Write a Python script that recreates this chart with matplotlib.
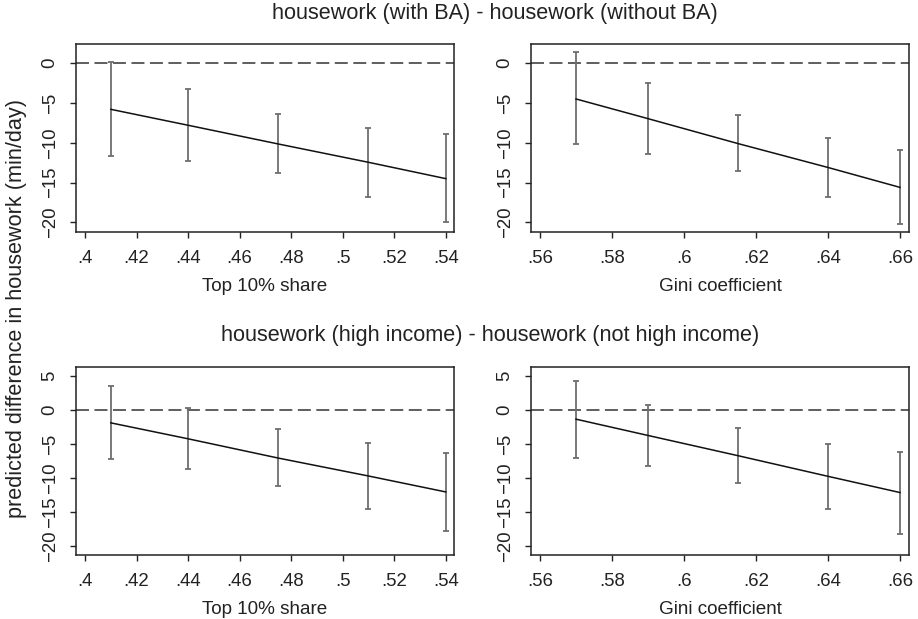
import matplotlib

matplotlib.use("Agg")

import matplotlib.pyplot as plt

plt.rcParams["font.family"] = ["Liberation Sans", "DejaVu Sans"]

# x positions of the predictions
TOP10_X = [0.41, 0.44, 0.475, 0.51, 0.54]
GINI_X = [0.57, 0.59, 0.615, 0.64, 0.66]

# housework (with BA) - housework (without BA)
BA_TOP10_EST = [-5.8, -7.8, -10.15, -12.45, -14.5]
BA_TOP10_LO = [-11.6, -12.35, -13.85, -16.8, -20.0]
BA_TOP10_HI = [0.15, -3.2, -6.33, -8.1, -8.9]

BA_GINI_EST = [-4.5, -6.97, -10.1, -13.1, -15.6]
BA_GINI_LO = [-10.2, -11.43, -13.5, -16.8, -20.2]
BA_GINI_HI = [1.34, -2.44, -6.47, -9.37, -10.9]

# housework (high income) - housework (not high income)
INC_TOP10_EST = [-1.9, -4.24, -7.07, -9.7, -12.04]
INC_TOP10_LO = [-7.26, -8.72, -11.16, -14.52, -17.84]
INC_TOP10_HI = [3.46, 0.24, -2.73, -4.92, -6.29]

INC_GINI_EST = [-1.36, -3.75, -6.72, -9.75, -12.13]
INC_GINI_LO = [-7.02, -8.28, -10.77, -14.52, -18.18]
INC_GINI_HI = [4.29, 0.78, -2.68, -4.97, -6.14]

TOP10_TICKS = [0.40, 0.42, 0.44, 0.46, 0.48, 0.50, 0.52, 0.54]
TOP10_LABELS = [".4", ".42", ".44", ".46", ".48", ".5", ".52", ".54"]
GINI_TICKS = [0.56, 0.58, 0.60, 0.62, 0.64, 0.66]
GINI_LABELS = [".56", ".58", ".6", ".62", ".64", ".66"]
Y_TICKS_TOP = [0, -5, -10, -15, -20]
Y_TICKS_BOTTOM = [5, 0, -5, -10, -15, -20]

TITLE_BA = "housework (with BA) - housework (without BA)"
TITLE_INC = "housework (high income) - housework (not high income)"
Y_LABEL = "predicted difference in housework (min/day)"

W, H = 918, 619
INK = "#222222"
CI_GRAY = "#6e6e6e"


def px_axes(fig, left, top, right, bottom):
    return fig.add_axes([left / W, 1 - bottom / H, (right - left) / W, (bottom - top) / H])


def draw_panel(ax, x, est, lo, hi, xticks, xlabels, xlim, yticks, ylim, xlabel):
    yerr = [[e - l for e, l in zip(est, lo)], [h - e for e, h in zip(est, hi)]]
    ax.axhline(0, color="#333333", linewidth=1.1, linestyle=(0, (8.5, 3.6)), zorder=1)
    ax.errorbar(
        x, est, yerr=yerr, fmt="none", ecolor=CI_GRAY, elinewidth=1.3,
        capsize=2.3, capthick=1.3, zorder=2,
    )
    ax.plot(x, est, color="#111111", linewidth=1.1, zorder=3)

    ax.set_xlim(*xlim)
    ax.set_ylim(*ylim)
    ax.set_xticks(xticks)
    ax.set_xticklabels(xlabels)
    ax.set_yticks(yticks)
    ax.set_yticklabels([str(v).replace("-", "\u2212") for v in yticks])
    ax.tick_params(axis="both", direction="out", length=4, width=1.0, color=INK,
                   labelcolor=INK, labelsize=13.4)
    ax.tick_params(axis="x", pad=9)
    ax.tick_params(axis="y", pad=8.5, labelrotation=90)
    for lbl in ax.get_yticklabels():
        lbl.set_va("center")
    for spine in ax.spines.values():
        spine.set_linewidth(1.1)
        spine.set_color(INK)
    ax.set_xlabel(xlabel, fontsize=13.6, color=INK, labelpad=8)


fig = plt.figure(figsize=(W / 100, H / 100), dpi=100)
fig.patch.set_facecolor("white")

ax1 = px_axes(fig, 76, 44, 454, 232)
ax2 = px_axes(fig, 531, 44, 909, 232)
ax3 = px_axes(fig, 76, 367, 454, 555)
ax4 = px_axes(fig, 531, 367, 909, 555)

draw_panel(ax1, TOP10_X, BA_TOP10_EST, BA_TOP10_LO, BA_TOP10_HI, TOP10_TICKS, TOP10_LABELS,
           (0.3965, 0.5432), Y_TICKS_TOP, (-21.2, 2.4), "Top 10% share")
draw_panel(ax2, GINI_X, BA_GINI_EST, BA_GINI_LO, BA_GINI_HI, GINI_TICKS, GINI_LABELS,
           (0.5575, 0.6625), Y_TICKS_TOP, (-21.2, 2.4), "Gini coefficient")
draw_panel(ax3, TOP10_X, INC_TOP10_EST, INC_TOP10_LO, INC_TOP10_HI, TOP10_TICKS, TOP10_LABELS,
           (0.3965, 0.5432), Y_TICKS_BOTTOM, (-21.3, 6.3), "Top 10% share")
draw_panel(ax4, GINI_X, INC_GINI_EST, INC_GINI_LO, INC_GINI_HI, GINI_TICKS, GINI_LABELS,
           (0.5575, 0.6625), Y_TICKS_BOTTOM, (-21.3, 6.3), "Gini coefficient")

fig.text(495 / W, 1 - 14 / H, TITLE_BA, ha="center", va="center", fontsize=15.6, color=INK)
fig.text(490 / W, 1 - 336 / H, TITLE_INC, ha="center", va="center", fontsize=15.6, color=INK)
fig.text(17 / W, 1 - 308 / H, Y_LABEL, ha="center", va="center", rotation=90,
         fontsize=15.6, color=INK)

fig.savefig("out.png", dpi=100, facecolor="white")
